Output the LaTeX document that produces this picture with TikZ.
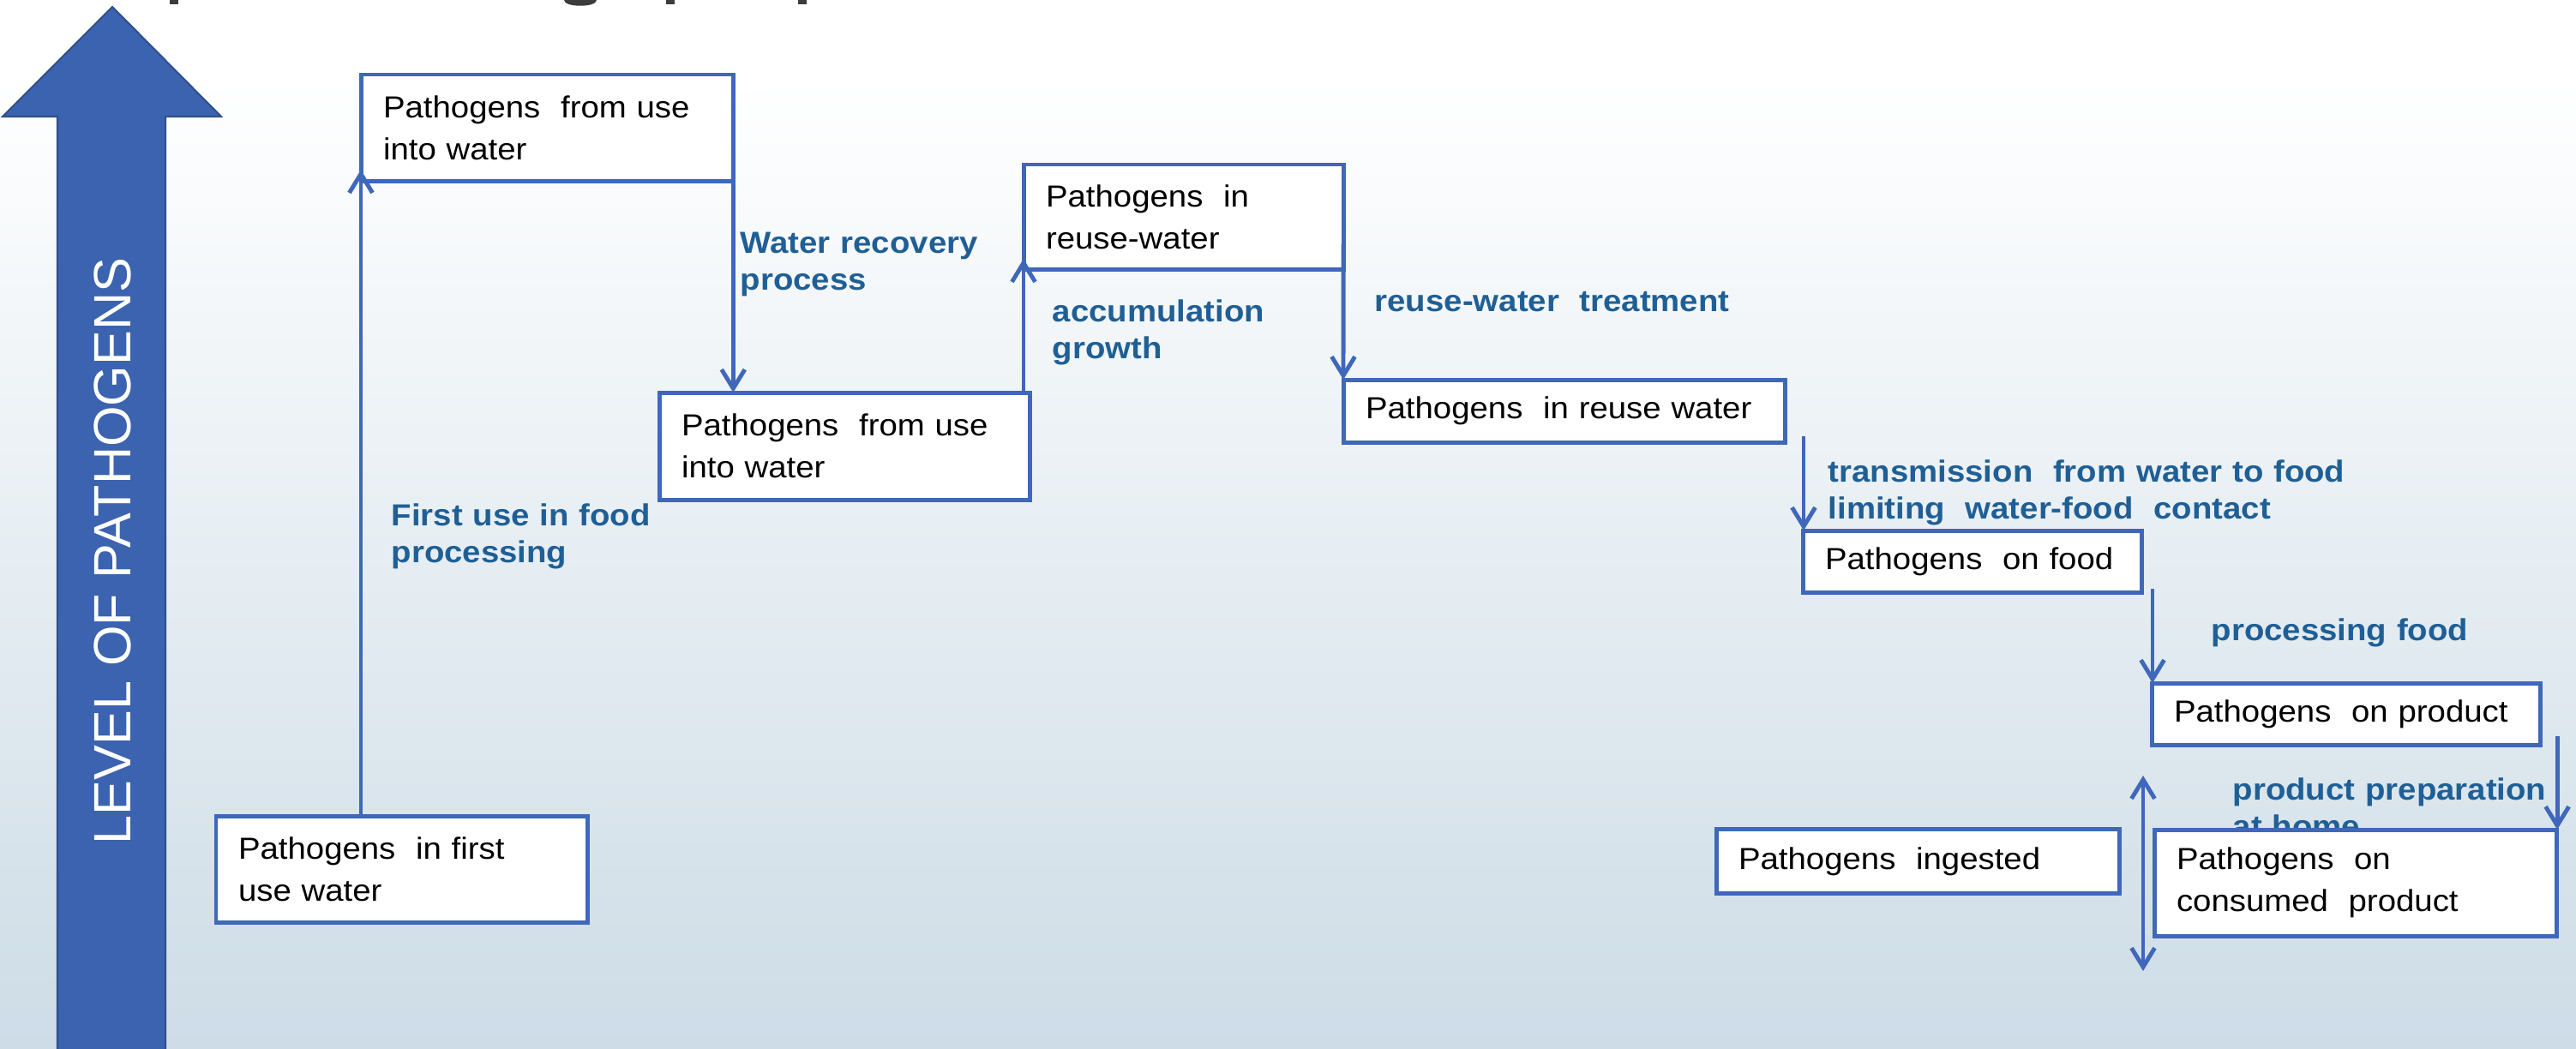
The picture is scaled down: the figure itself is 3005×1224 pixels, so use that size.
\documentclass[tikz,border=0pt]{standalone}
\usepackage{fontspec}
\setmainfont{Liberation Sans}[FakeStretch=1.08]
\newfontfamily\axisfont{Liberation Sans}
\usetikzlibrary{arrows.meta,calc}
\definecolor{bgbot}{RGB}{205,220,230}
\definecolor{boxblue}{RGB}{63,103,186}
\definecolor{lblcol}{RGB}{31,95,150}
\definecolor{arrfill}{RGB}{59,99,176}
\definecolor{arrdraw}{RGB}{47,80,140}
\definecolor{titlegray}{RGB}{60,60,60}
\newcommand\bxfont{\fontsize{10.1pt}{13.94pt}\selectfont}
\newcommand\lbfont{\fontsize{10.1pt}{12.5pt}\selectfont\bfseries}
\begin{document}
\begin{tikzpicture}[x=0.01cm,y=-0.01cm,
  pbox/.style={draw=boxblue, line width=1.42pt, fill=white, inner xsep=7.4pt, inner ysep=0pt,
    outer sep=0pt, align=left, anchor=north west, font=\bxfont, text=black},
  lbl/.style={text=lblcol, font=\lbfont, align=left, anchor=base west, inner sep=0pt, text width=220pt},
  conn/.style={draw=boxblue, line width=1.4pt, -{Straight Barb[length=6.3pt,width=7.7pt]}},
  dconn/.style={draw=boxblue, line width=1.4pt, {Straight Barb[length=6.3pt,width=7.7pt]}-{Straight Barb[length=6.3pt,width=7.7pt]}}
]
\useasboundingbox (0,0) rectangle (3005,1224);
% background
\fill[white] (0,0) rectangle (3005,1224);
\shade[top color=white, bottom color=bgbot] (0,90) rectangle (3005,1224);
% cut-off title fragments
\fill[titlegray] (198,0) rectangle (208,5);
\fill[titlegray] (658,0) .. controls (658,9) and (696,9) .. (696,0) -- cycle;
\fill[titlegray] (777,0) rectangle (787,5);
\fill[titlegray] (931,0) rectangle (941,5);
% big axis arrow
\draw[fill=arrfill, draw=arrdraw, line width=0.6pt]
  (131,8) -- (258,136) -- (193,136) -- (193,1240) -- (67,1240) -- (67,136) -- (3,136) -- cycle;
\node[rotate=90, text=white, font=\axisfont\fontsize{17.4pt}{20pt}\selectfont, inner sep=0pt] (axis) at (131,643) {LEVEL OF PATHOGENS};
% labels
\node[lbl] (l1) at (456,613) {First use in food\\processing};
\node[lbl] (l2) at (863,295) {Water recovery\\process};
\node[lbl] (l3) at (1227,375) {accumulation\\growth};
\node[lbl] (l4) at (1603,363) {reuse-water~ treatment};
\node[lbl] (l5) at (2132,562) {transmission~ from water to food\\limiting~ water-food~ contact};
\node[lbl] (l6) at (2579,747) {processing food};
\node[lbl] (l7) at (2604,933) {product preparation\\at home};
% boxes
\node[pbox, text width=108.4pt, minimum height=35.3pt] (B1) at (252,952) {Pathogens~ in first\\use water};
\node[pbox, text width=108.7pt, minimum height=35.3pt] (A) at (421,87) {Pathogens~ from use\\into water};
\node[pbox, text width=108.1pt, minimum height=35.6pt] (B) at (769,458) {Pathogens~ from use\\into water};
\node[pbox, text width=91.3pt, minimum height=34.7pt] (C) at (1194,192) {Pathogens~ in\\reuse-water};
\node[pbox, text width=131.7pt, minimum height=20.8pt] (D) at (1567,443) {Pathogens~ in reuse water};
\node[pbox, text width=97.6pt, minimum height=20.5pt] (E) at (2103,619) {Pathogens~ on food};
\node[pbox, text width=114.1pt, minimum height=20.5pt] (F) at (2510,797) {Pathogens~ on product};
\node[pbox, text width=118.9pt, minimum height=21.6pt] (G) at (2002,967) {Pathogens~ ingested};
\node[pbox, text width=118.6pt, minimum height=35.3pt] (H) at (2513,968) {Pathogens~ on\\consumed~ product};
% connectors
\draw[conn] (A.south west |- B1.north) -- ($(A.south west)+(0,-13)$);
\draw[conn] ($(A.south east)+(0,-18)$) -- (A.south east |- B.north);
\draw[conn] (C.south west |- B.north) -- ($(C.south west)+(0,-12)$);
\draw[conn] ($(C.south east)+(0,-29)$) -- (D.north west);
\draw[conn] ($(E.north west |- D.south)+(1,-7)$) -- ($(E.north west)+(1,0)$);
\draw[conn] ($(F.north west |- E.south)+(1,-4)$) -- ($(F.north west)+(1,0)$);
\draw[conn] ($(H.north east |- F.south)+(1,-10)$) -- ($(H.north east)+(1,0)$);
\coordinate (d1) at (2500,905);
\coordinate (d2) at (2500,1133);
\draw[dconn] (d1) -- (d2);
\end{tikzpicture}
\end{document}
